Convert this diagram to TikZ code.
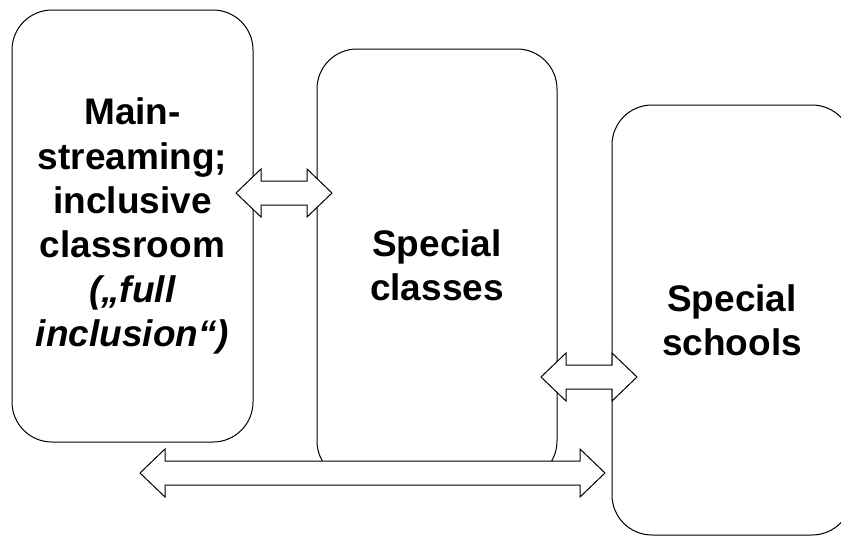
\documentclass[tikz,border=0pt]{standalone}
\usepackage{fontspec}
\setmainfont{Liberation Sans}
\begin{document}
\begin{tikzpicture}[x=1pt,y=-1pt,
  box/.style={draw=black, line width=1pt, rounded corners=40pt, fill=white,
    inner sep=0pt, align=center, font=\bfseries\fontsize{37}{44.3}\selectfont},
  blockarrow/.style={draw=black, line width=1pt, fill=white, line join=miter}]
\useasboundingbox (0,0) rectangle (841,538);
\clip (0,0) rectangle (841,538);
\node[box, minimum width=241pt, minimum height=432pt] (ms) at (132.5,226)
  {Main-\\streaming;\\inclusive\\classroom\\\textit{(„full}\\\textit{inclusion“)}};
\node[box, minimum width=240pt, minimum height=432pt] (sc) at (437,265)
  {Special\\classes};
\node[box, minimum width=240pt, minimum height=430pt] (ss) at (732,320)
  {Special\\schools};
% double block arrows
\newcommand{\dblarrow}[3]{%
  \draw[blockarrow] (#1,#3) -- (#1+25,#3-24) -- (#1+25,#3-12) -- (#2-25,#3-12)
    -- (#2-25,#3-24) -- (#2,#3) -- (#2-25,#3+24) -- (#2-25,#3+12)
    -- (#1+25,#3+12) -- (#1+25,#3+24) -- cycle;}
\dblarrow{236}{332}{193}
\dblarrow{541}{637}{377}
\dblarrow{140}{605}{473}
\end{tikzpicture}
\end{document}
